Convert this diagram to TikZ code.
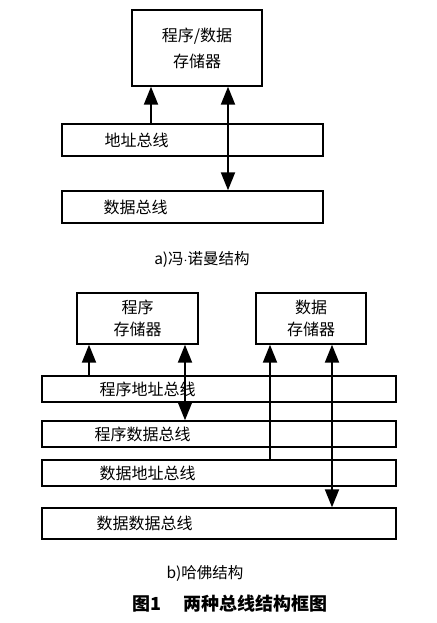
\documentclass[tikz,border=0pt]{standalone}
\usepackage{fontspec}
\newfontfamily\cjk{Noto Sans CJK SC}
\usetikzlibrary{arrows.meta}

\begin{document}
\begin{tikzpicture}[
    x=1pt, y=-1pt,
    mem/.style={draw, line width=1.4pt, align=center, inner sep=0pt, font=\cjk\fontsize{16}{24}\selectfont},
    bus/.style={draw, line width=1.4pt, minimum width=354pt, minimum height=26pt, inner sep=0pt},
    lbl/.style={anchor=west, inner sep=0pt, font=\cjk\fontsize{16}{18}\selectfont},
    link/.style={line width=2pt, -{Triangle[length=18pt, width=14pt]}},
    dlink/.style={line width=2pt, {Triangle[length=18pt, width=14pt]}-{Triangle[length=18pt, width=14pt]}},
    captxt/.style={font=\cjk\fontsize{15.5}{18}\selectfont}
]
\useasboundingbox (0,0) rectangle (436,623);

% a) von Neumann
\node[mem, minimum width=130pt, minimum height=76pt, font=\cjk\fontsize{16}{26}\selectfont] (vmem) at (197,48) {程序/数据\\存储器};
\node[bus, minimum width=261pt, minimum height=32pt] (abus) at (192.5,140) {};
\node[bus, minimum width=261pt, minimum height=32pt] (dbus) at (192.5,207) {};
\node[lbl] (abustxt) at ([xshift=43pt]abus.west) {地址总线};
\node[lbl] (dbustxt) at ([xshift=42pt]dbus.west) {数据总线};

\coordinate (xa) at (151,0);
\coordinate (xb) at (228,0);
\draw[link] (abus.north -| xa) -- (vmem.south -| xa);
\draw[dlink] (vmem.south -| xb) -- (dbus.north -| xb);

\node[captxt] (capa) at (202,259) {a)冯$\cdot$诺曼结构};

% b) Harvard
\node[mem, minimum width=121pt, minimum height=51pt, font=\cjk\fontsize{16}{22}\selectfont] (pmem) at (137.5,318.5) {程序\\存储器};
\node[mem, minimum width=110pt, minimum height=51pt, font=\cjk\fontsize{16}{22}\selectfont] (dmem) at (311,318.5) {数据\\存储器};
\node[bus] (pab) at (219,389) {};
\node[bus] (pdb) at (219,434) {};
\node[bus] (dab) at (219,473) {};
\node[bus, minimum height=31pt] (ddb) at (219,523.5) {};
\node[lbl] (pabtxt) at ([xshift=58pt]pab.west) {程序地址总线};
\node[lbl] (pdbtxt) at ([xshift=53pt]pdb.west) {程序数据总线};
\node[lbl] (dabtxt) at ([xshift=58pt]dab.west) {数据地址总线};
\node[lbl] (ddbtxt) at ([xshift=55pt]ddb.west) {数据数据总线};

\coordinate (xc) at (89,0);
\coordinate (xd) at (185,0);
\coordinate (xe) at (270,0);
\coordinate (xf) at (332,0);
\draw[link] (pab.north -| xc) -- (pmem.south -| xc);
\draw[dlink] (pmem.south -| xd) -- (pdb.north -| xd);
\draw[link] (dab.north -| xe) -- (dmem.south -| xe);
\draw[dlink] (dmem.south -| xf) -- (ddb.north -| xf);

\node[captxt] (capb) at (205,573) {b)哈佛结构};
\node[font=\cjk\bfseries\fontsize{18}{20}\selectfont] (title) at (230,604) {图1\hspace{1.2em}两种总线结构框图};
\end{tikzpicture}
\end{document}
